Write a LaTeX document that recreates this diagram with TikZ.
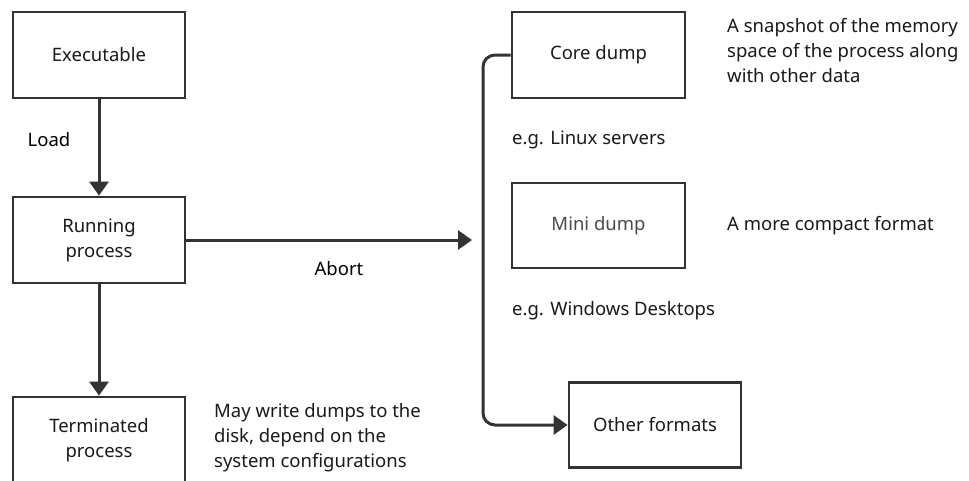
\documentclass[tikz,border=0pt]{standalone}
\usepackage{fontspec}
\setmainfont{Noto Sans}
\usetikzlibrary{arrows.meta}
\definecolor{linegray}{HTML}{333333}
\definecolor{inkgray}{HTML}{1A1A1A}
\definecolor{softgray}{HTML}{4A4A4A}
\tikzset{
  box/.style={draw=linegray, line width=2.8pt, fill=white, minimum width=172pt,
    minimum height=86pt, inner sep=0pt, align=center, text=inkgray},
  note/.style={inner sep=0pt, anchor=west, align=left, text=inkgray},
  flow/.style={draw=linegray, line width=3pt,
    -{Triangle[width=19pt,length=14pt]}},
}
\begin{document}
\begin{tikzpicture}[x=1pt,y=-1pt,font=\fontsize{18.5}{25}\selectfont]
\useasboundingbox (0,0) rectangle (969,480);
\clip (0,0) rectangle (969,480);
\fill[white] (0,0) rectangle (969,480);

% process life cycle
\node[box] (exe)  at (99,55)  {Executable};
\node[box] (run)  at (99,240) {Running\\process};
\node[box] (term) at (99,440) {Terminated\\process};

% dump formats
\node[box, minimum width=173pt] (core) at (598.5,55) {Core dump};
\node[box, minimum width=173pt, minimum height=85pt, text=softgray] (mini) at (598.5,225.5) {Mini dump};
\node[box, minimum height=85pt] (other) at (655,425) {Other formats};

\coordinate (abortend) at (472,240);
\coordinate (bendtop) at (483,55);
\coordinate (bendbot) at (483,425);

\draw[flow] (exe.south) -- (run.north);
\draw[flow] (run.south) -- (term.north);
\draw[flow] (run.east) -- (abortend);
\draw[flow, rounded corners=12pt] (core.west) -- (bendtop) -- (bendbot) -- (other.west);

% labels
\node (load) at (49,140) {Load};
\node (abort) at (339,269) {Abort};
\node[note] (linux) at (512,140) {e.g. Linux servers};
\node[note] (win) at (512,311) {e.g. Windows Desktops};
\node[note] (snap) at (727,51) {A snapshot of the memory\\space of the process along\\with other data};
\node[note] (compact) at (727,226) {A more compact format};
\node[note] (disk) at (214,438) {May write dumps to the\\disk, depend on the\\system configurations};
\end{tikzpicture}
\end{document}
